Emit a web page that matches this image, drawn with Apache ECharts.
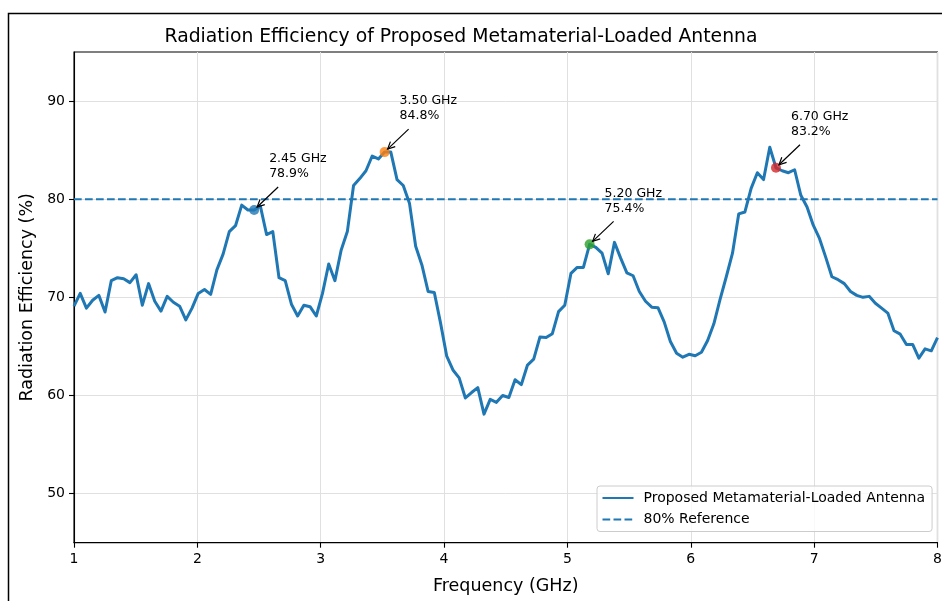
<!DOCTYPE html>
<html>
<head>
<meta charset="utf-8">
<script src="https://cdn.jsdelivr.net/npm/echarts@6/dist/echarts.min.js"></script>
<style>
html,body{margin:0;padding:0;background:#fff;}
#chart{width:942px;height:601px;}
</style>
</head>
<body>
<div id="chart"></div>
<script>
// ---- data ----
const freqStart = 1;
const freqEnd = 8;
const efficiency = [
  69.1, 70.4, 68.9, 69.7, 70.2, 68.5, 71.7, 72.0, 71.9, 71.5,
  72.3, 69.2, 71.4, 69.6, 68.6, 70.1, 69.5, 69.1, 67.7, 68.9,
  70.4, 70.8, 70.3, 72.8, 74.4, 76.7, 77.3, 79.4, 78.9, 78.9,
  79.3, 76.4, 76.7, 72.0, 71.7, 69.3, 68.1, 69.2, 69.05, 68.1,
  70.4, 73.4, 71.7, 74.8, 76.7, 81.4, 82.1, 82.9, 84.4, 84.1,
  84.8, 84.8, 82.0, 81.4, 79.6, 75.2, 73.3, 70.6, 70.5, 67.4,
  64.0, 62.6, 61.8, 59.75, 60.3, 60.8, 58.1, 59.6, 59.3, 60.0,
  59.8, 61.6, 61.1, 63.1, 63.7, 65.95, 65.9, 66.3, 68.55, 69.2,
  72.45, 73.05, 73.05, 75.4, 75.1, 74.5, 72.4, 75.6, 74.0, 72.5,
  72.2, 70.6, 69.6, 69.0, 68.95, 67.5, 65.5, 64.3, 63.9, 64.2,
  64.05, 64.4, 65.6, 67.3, 69.8, 72.1, 74.5, 78.5, 78.7, 81.1,
  82.7, 82.0, 85.3, 83.2, 82.9, 82.7, 83.0, 80.4, 79.2, 77.35,
  76.0, 74.1, 72.1, 71.8, 71.4, 70.6, 70.2, 70.0, 70.1, 69.4,
  68.9, 68.4, 66.6, 66.25, 65.2, 65.2, 63.8, 64.75, 64.55, 65.9
];
const referenceLevel = 80;
const xTicks = [1, 2, 3, 4, 5, 6, 7, 8];
const yTicks = [50, 60, 70, 80, 90];
const annotTargets = [2.45, 3.50, 5.20, 6.70];
const annotColors = ['#1f77b4', '#ff7f0e', '#2ca02c', '#d62728'];

const seriesName = 'Proposed Metamaterial-Loaded Antenna';
const refName = '80% Reference';
const FONT = 'DejaVu Sans';

// ---- build ----
const n = efficiency.length;
const freqs = efficiency.map((_, i) => freqStart + (freqEnd - freqStart) * i / (n - 1));
const lineData = freqs.map((f, i) => [f, efficiency[i]]);
const annotIdx = annotTargets.map(t => {
  let best = 0;
  freqs.forEach((f, i) => { if (Math.abs(f - t) < Math.abs(freqs[best] - t)) best = i; });
  return best;
});
const annotData = annotIdx.map((k, j) => ({
  value: [freqs[k], efficiency[k]],
  itemStyle: { color: annotColors[j] }
}));

const chart = echarts.init(document.getElementById('chart'), null, { renderer: 'canvas' });

const option = {
  animation: false,
  backgroundColor: '#ffffff',
  textStyle: { fontFamily: FONT },
  title: {
    text: 'Radiation Efficiency of Proposed Metamaterial-Loaded Antenna',
    left: 456, top: 23, textAlign: 'center',
    textStyle: { fontSize: 18.8, fontWeight: 'normal', color: '#000', fontFamily: FONT }
  },
  grid: {
    left: 74, right: 4.5, top: 52, bottom: 58.3, containLabel: false,
    outerBoundsMode: 'none',
    show: true, borderColor: '#000', borderWidth: 1.1, backgroundColor: 'transparent'
  },
  xAxis: {
    type: 'value', min: xTicks[0], max: xTicks[xTicks.length - 1], interval: 1,
    name: 'Frequency (GHz)', nameLocation: 'middle', nameGap: 35,
    nameTextStyle: { fontSize: 17.5, color: '#000', fontFamily: FONT },
    axisLine: { show: true, onZero: false, lineStyle: { color: '#000', width: 1.1 } },
    axisTick: { show: true, inside: false, length: 5, lineStyle: { color: '#000', width: 1.1 } },
    axisLabel: { fontSize: 14, color: '#000', margin: 10, fontFamily: FONT },
    splitLine: { show: true, lineStyle: { color: '#e0e0e0', width: 1 } }
  },
  yAxis: {
    type: 'value', min: 45, max: 95,
    name: 'Radiation Efficiency (%)', nameLocation: 'middle', nameGap: 37,
    nameTextStyle: { fontSize: 17.5, color: '#000', fontFamily: FONT },
    axisLine: { show: true, onZero: false, lineStyle: { color: '#000', width: 1.1 } },
    axisTick: { show: true, inside: false, length: 5, customValues: yTicks, lineStyle: { color: '#000', width: 1.1 } },
    axisLabel: { fontSize: 14, color: '#000', margin: 9, customValues: yTicks, fontFamily: FONT },
    splitLine: { show: true, lineStyle: { color: '#e0e0e0', width: 1 } }
  },
  legend: {
    orient: 'vertical', left: 597, top: 486,
    padding: [5, 7, 5, 4.5],
    itemWidth: 31, itemHeight: 14, itemGap: 7.5,
    backgroundColor: 'rgba(255,255,255,0.8)',
    borderColor: '#cccccc', borderWidth: 1, borderRadius: 3,
    itemStyle: { opacity: 0 },
    textStyle: { fontSize: 14, color: '#000', fontFamily: FONT, padding: [0, 0, 0, 5] },
    data: [seriesName, refName]
  },
  series: [
    {
      name: refName, type: 'line', symbol: 'none', silent: true,
      data: [[freqStart, referenceLevel], [freqEnd, referenceLevel]],
      lineStyle: { color: '#1f77b4', width: 1.9, type: [7.7, 3.3] },
      itemStyle: { color: '#1f77b4' }, z: 2
    },
    {
      name: seriesName, type: 'line', symbol: 'none',
      data: lineData,
      lineStyle: { color: '#1f77b4', width: 3, join: 'round' },
      itemStyle: { color: '#1f77b4' }, z: 3
    },
    {
      name: 'peaks', type: 'scatter', symbol: 'circle', symbolSize: 10,
      data: annotData, z: 4
    }
  ],
  graphic: []
};
chart.setOption(option);

// annotations placed relative to their data points
const graphics = [{
  type: 'rect', silent: true, z: 0,
  shape: { x: 8.5, y: 13.5, width: 1000, height: 700 },
  style: { fill: 'none', stroke: '#000', lineWidth: 1.5 }
}];
annotIdx.forEach((k, j) => {
  const p = chart.convertToPixel({ gridIndex: 0 }, [freqs[k], efficiency[k]]);
  const tail = [p[0] + 24, p[1] - 23];
  const head = [p[0] + 3, p[1] - 3];
  const ang = Math.atan2(head[1] - tail[1], head[0] - tail[0]);
  const hl = 8, ha = 0.45;
  const w1 = [head[0] - hl * Math.cos(ang - ha), head[1] - hl * Math.sin(ang - ha)];
  const w2 = [head[0] - hl * Math.cos(ang + ha), head[1] - hl * Math.sin(ang + ha)];
  graphics.push({
    type: 'line', silent: true, z: 10,
    shape: { x1: tail[0], y1: tail[1], x2: head[0], y2: head[1] },
    style: { stroke: '#000', lineWidth: 1.2 }
  });
  graphics.push({
    type: 'polyline', silent: true, z: 10,
    shape: { points: [w1, head, w2] },
    style: { stroke: '#000', lineWidth: 1.2, fill: 'none' }
  });
  graphics.push({
    type: 'text', silent: true, z: 10,
    x: p[0] + 15, y: p[1] - 58.5,
    style: {
      text: annotTargets[j].toFixed(2) + ' GHz\n' + efficiency[k].toFixed(1) + '%',
      fill: '#000', font: '12.5px "DejaVu Sans"', lineHeight: 15,
      textAlign: 'left', textVerticalAlign: 'top'
    }
  });
});
chart.setOption({ graphic: graphics });
</script>
</body>
</html>
